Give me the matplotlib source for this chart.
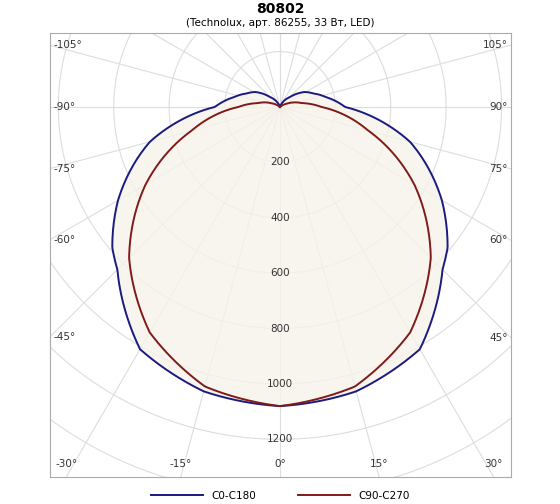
import numpy as np
import matplotlib.pyplot as plt

# intensity (cd) vs angle from nadir (deg), symmetric curves
ang_c0 = [0, 15, 30, 45, 50, 60, 75, 90, 102, 112, 121, 135, 160]
cd_c0 = [1080, 1063, 1010, 830, 790, 675, 486, 235, 170, 130, 105, 50, 0]
ang_c90 = [0, 15, 30, 45, 60, 75, 90, 100, 115, 130]
cd_c90 = [1080, 1045, 940, 770, 560, 330, 150, 80, 30, 0]
ring_values = [200, 400, 600, 800, 1000, 1200]
ray_angles = list(range(-180, 181, 15))

XL, XR, YB, YT = -830, 834, -1336, 267

fig = plt.figure(figsize=(5.6, 5.04), dpi=100)
ax = fig.add_axes([50 / 560, 27 / 504, 461 / 560, 444 / 504])
ax.set_xlim(XL, XR)
ax.set_ylim(YB, YT)
ax.set_aspect("auto")
ax.set_xticks([])
ax.set_yticks([])
for s in ax.spines.values():
    s.set_color("#aaaaaa")
    s.set_linewidth(0.8)


def curve(angs, vals):
    t = np.linspace(0, angs[-1], 300)
    v = np.interp(t, angs, vals)
    t = np.radians(np.concatenate([-t[::-1], t[1:]]))
    v = np.concatenate([v[::-1], v[1:]])
    return v * np.sin(t), -v * np.cos(t)


# grid
th = np.linspace(0, 2 * np.pi, 400)
for r in range(200, 2000, 200):
    ax.plot(r * np.cos(th), r * np.sin(th), color="#dddddd", lw=0.8, zorder=1)
for a in ray_angles:
    t = np.radians(a)
    ax.plot([0, 2000 * np.sin(t)], [0, -2000 * np.cos(t)], color="#dddddd", lw=0.8, zorder=1)

x0, y0 = curve(ang_c0, cd_c0)
x9, y9 = curve(ang_c90, cd_c90)
ax.fill(x0, y0, color="#f7f3ea", alpha=0.8, zorder=2)
ax.plot(x0, y0, color="#1a1a80", lw=1.4, zorder=3, label="C0-C180")
ax.plot(x9, y9, color="#801a1a", lw=1.4, zorder=3, label="C90-C270")

for r in ring_values:
    ax.text(0, -r, str(r), ha="center", va="center", fontsize=7.5, color="#333333", zorder=4)

# angle labels at the frame border
for a in range(-105, 106, 15):
    t = np.radians(a)
    dx, dy = np.sin(t), -np.cos(t)
    best = 1e9
    if dx != 0:
        best = min(best, ((XR if dx > 0 else XL)) / dx)
    if dy != 0:
        best = min(best, ((YT if dy > 0 else YB)) / dy)
    px, py = best * dx, best * dy
    if abs(px - XL) < 1 or abs(px - XR) < 1:
        ha = "left" if dx < 0 else "right"
        px += 12 if dx < 0 else -12
        if py > YT - 60:
            py = YT - 45
        ax.text(px, py, f"{a}°", ha=ha, va="center", fontsize=7.5, color="#333333")
    else:
        if abs(px) > XR - 60:
            px = np.sign(px) * (XR - 45)
        ax.text(px, py + 30, f"{a}°", ha="center", va="bottom", fontsize=7.5, color="#333333")

fig.text(0.5, 0.983, "80802", ha="center", va="center", fontsize=10, fontweight="bold")
fig.text(0.5, 0.955, "(Technolux, арт. 86255, 33 Вт, LED)", ha="center", va="center", fontsize=7.5)
fig.legend(loc="lower center", bbox_to_anchor=(0.5, -0.012), ncol=2, frameon=False,
           fontsize=7.5, handlelength=5, columnspacing=4)
fig.savefig("out.png", dpi=100)
